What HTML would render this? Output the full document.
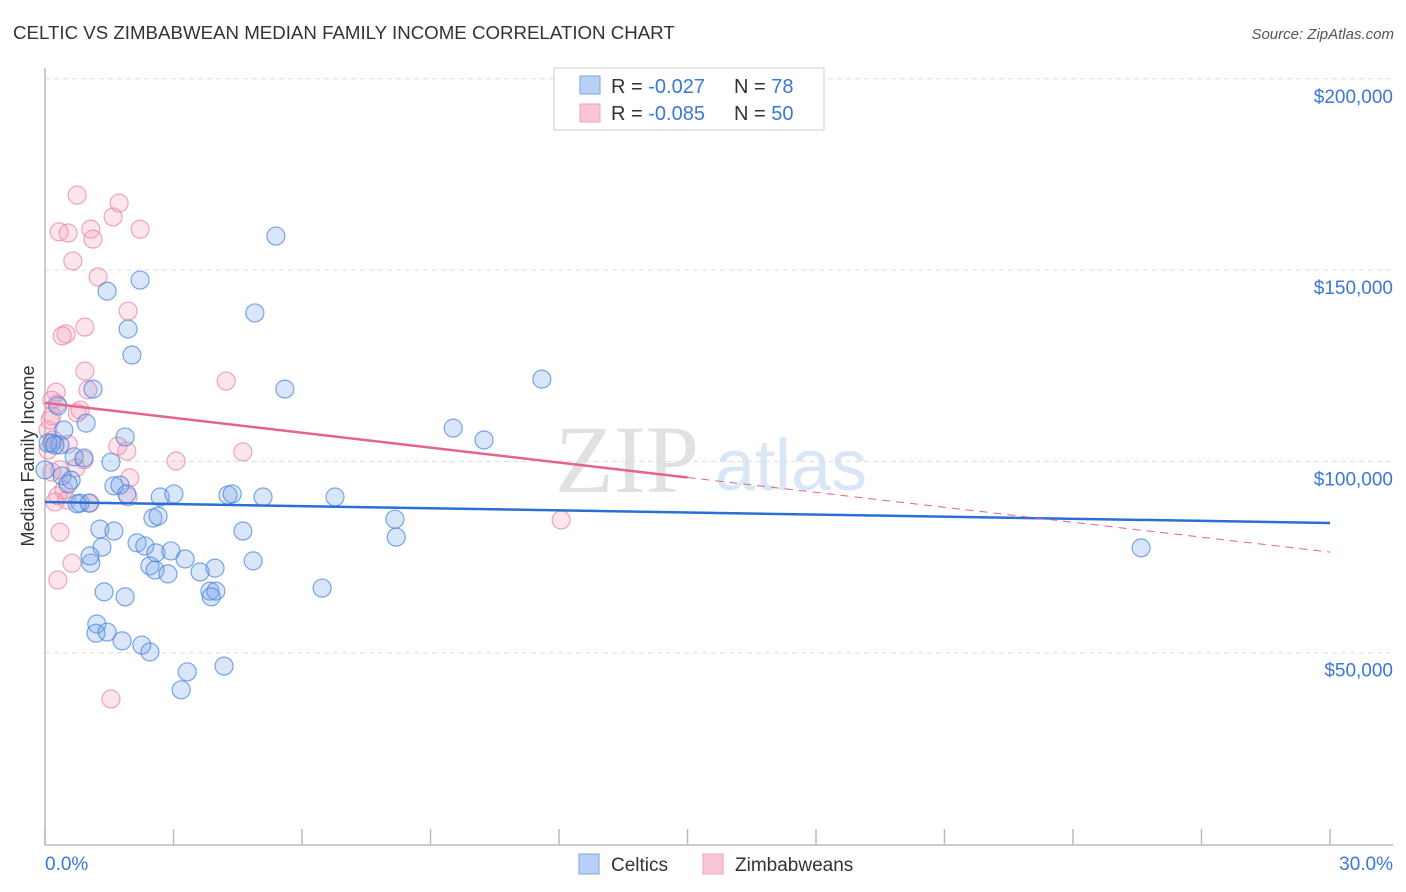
<!DOCTYPE html>
<html><head><meta charset="utf-8">
<style>
body{margin:0;background:#fff;font-family:"Liberation Sans",sans-serif;}
#wrap{position:relative;width:1406px;height:892px;overflow:hidden;}
</style></head>
<body>
<div id="wrap">
<svg id="chart" width="1406" height="892">
<text x="13" y="39" font-size="18.7" fill="#333">CELTIC VS ZIMBABWEAN MEDIAN FAMILY INCOME CORRELATION CHART</text>
<text x="1394" y="39" font-size="15" fill="#555" font-style="italic" text-anchor="end">Source: ZipAtlas.com</text>
<text x="0" y="0" transform="translate(34,456) rotate(-90)" font-size="18" fill="#333" text-anchor="middle">Median Family Income</text>
<g opacity="0.85">
<text x="555" y="492" font-size="96" font-family="Liberation Serif,serif" fill="#dcdcdc">ZIP</text>
<text x="715" y="490" font-size="72" fill="#d3e2f5">atlas</text>
</g>
<g id="grid"></g><g id="axes"></g><g id="marks"></g>
<g>
<rect x="554" y="68" width="270" height="62" fill="#fff" stroke="#ccc"/>
<rect x="580" y="76" width="20" height="18" fill="#b8d0f5" stroke="#7aa6e8"/>
<rect x="580" y="104" width="20" height="18" fill="#f9c6d6" stroke="#eda0ba"/>
<text x="611" y="93" font-size="20" fill="#333">R = <tspan fill="#3a78d4">-0.027</tspan><tspan x="734">N = </tspan><tspan fill="#3a78d4">78</tspan></text>
<text x="611" y="120" font-size="20" fill="#333">R = <tspan fill="#3a78d4">-0.085</tspan><tspan x="734">N = </tspan><tspan fill="#3a78d4">50</tspan></text>
</g>
<g>
<rect x="579" y="854" width="20" height="20" fill="#b8d0f5" stroke="#7aa6e8"/>
<text x="611" y="871" font-size="19" fill="#333">Celtics</text>
<rect x="703" y="854" width="20" height="20" fill="#f9c6d6" stroke="#eda0ba"/>
<text x="735" y="871" font-size="19" fill="#333">Zimbabweans</text>
</g>
</svg>
</div>
<script>
const yTicks=[50000,100000,150000,200000];
const yTickLabels=["$50,000","$100,000","$150,000","$200,000"];
const xTickLabels=["0.0%","30.0%"];
const celticX=[5.39,2.22,1.45,4.90,1.94,2.03,5.60,11.60,1.12,0.30,0.96,0.44,9.53,10.25,1.87,0.16,0.35,0.68,0.91,1.54,0.40,0.61,0.54,1.61,1.75,1.91,2.69,3.01,4.27,4.37,5.09,6.77,0.82,1.03,0.75,2.52,2.64,8.17,8.20,1.28,1.61,4.62,1.33,2.15,2.33,2.59,2.94,3.27,1.07,1.05,2.45,2.57,2.87,3.62,3.97,4.86,6.47,3.85,3.99,3.88,1.38,1.87,1.21,1.19,1.45,1.80,2.26,2.45,3.32,4.18,3.18,25.59,0.07,0.23,0.0];
const celticY=[158900,147400,144500,138800,134600,127800,118900,121500,118900,114500,110000,108200,108700,105600,106400,104800,104300,101200,100900,99800,96200,95100,94100,93600,93800,91500,90700,91500,91200,91500,90700,90700,89100,89100,88900,85200,85700,84900,80200,82300,81800,81800,77600,78700,77900,76100,76600,74500,73400,75300,72700,71600,70600,71100,72100,74000,66900,66100,66100,64600,65900,64600,57500,55100,55400,53100,52000,50200,45000,46500,40300,77400,104800,104300,97800];
const zimX=[0.75,1.73,1.59,2.22,0.33,0.54,1.07,1.12,0.65,1.24,1.94,0.93,0.49,0.40,0.93,4.23,1.00,0.26,0.16,0.28,0.82,0.16,0.75,0.07,1.70,0.19,0.54,1.91,4.62,3.06,0.91,0.72,1.98,0.16,0.44,1.94,0.30,1.05,0.23,0.51,12.05,0.35,0.63,0.30,1.54,0.07,0.12,0.35];
const zimY=[169600,167500,163900,160700,160000,159700,160700,158100,152400,148200,139300,135100,133300,132800,123600,121000,118700,118100,116000,115000,113400,111900,112700,108200,104000,105600,104500,102700,102500,100100,100400,98300,95700,97200,92500,90700,91000,89100,89400,89900,84700,81500,73400,69000,37900,103000,110800,97800];
const celticTrend=[89400,83900];
const zimTrend=[115300,76300];
const ns="http://www.w3.org/2000/svg";
const X0=45,X1=1330,Y0=844,YPER=191.3/50000;
function sx(v){return X0+v*(X1-X0)/30;}
function sy(v){return Y0-v*YPER;}
function mk(tag,attrs,parent){const e=document.createElementNS(ns,tag);for(const k in attrs)e.setAttribute(k,attrs[k]);parent.appendChild(e);return e;}
const grid=document.getElementById('grid'),axes=document.getElementById('axes'),marks=document.getElementById('marks');
yTicks.forEach((t,i)=>{
  const l=mk('line',{x1:45,x2:1393,y1:sy(t),y2:sy(t),stroke:'#ddd','stroke-dasharray':'5,4'},grid);
  
  
  const tx=mk('text',{x:1393,y:sy(t)+24,'font-size':19,fill:'#3a78d4','text-anchor':'end'},axes);
  tx.textContent=yTickLabels[i];
  
  
});
const la=mk('line',{x1:45,x2:45,y1:68,y2:845,stroke:'#bbb','stroke-width':1.5},axes);


const ba=mk('line',{x1:45,x2:1393,y1:845,y2:845,stroke:'#bbb','stroke-width':1.5},axes);


for(let p=0;p<=30;p+=3){
  const tk=mk('line',{x1:sx(p),x2:sx(p),y1:829,y2:845,stroke:'#bbb','stroke-width':1.5},axes);
  
  
}
[[0,'start',45],[1,'end',1393]].forEach(([i,a,x])=>{
  const t=mk('text',{x:x,y:870,'font-size':19,fill:'#3a78d4','text-anchor':a},axes);
  t.textContent=xTickLabels[i];
  
  
});
function dots(xs,ys,fill,stroke,name){
  xs.forEach((x,i)=>{
    const c=mk('circle',{cx:sx(x),cy:sy(ys[i]),r:9,fill:fill,stroke:stroke,'stroke-width':1.2},marks);
    
    
  });
}
dots(zimX,zimY,'rgba(244,160,188,0.28)','rgba(232,130,165,0.7)','zimbabwean-point');
dots(celticX,celticY,'rgba(120,165,235,0.28)','rgba(70,130,220,0.7)','celtic-point');
const bt=mk('line',{x1:sx(0),x2:sx(30),y1:sy(celticTrend[0]),y2:sy(celticTrend[1]),stroke:'#2a6fd6','stroke-width':2.5},marks);


const zm=zimTrend[0]+(zimTrend[1]-zimTrend[0])*15/30;
const pt=mk('line',{x1:sx(0),x2:sx(15),y1:sy(zimTrend[0]),y2:sy(zm),stroke:'#e4638f','stroke-width':2.5},marks);


const pd=mk('line',{x1:sx(15),x2:sx(30),y1:sy(zm),y2:sy(zimTrend[1]),stroke:'#e4638f','stroke-width':1,'stroke-dasharray':'8,6'},marks);


</script>
</body></html>
